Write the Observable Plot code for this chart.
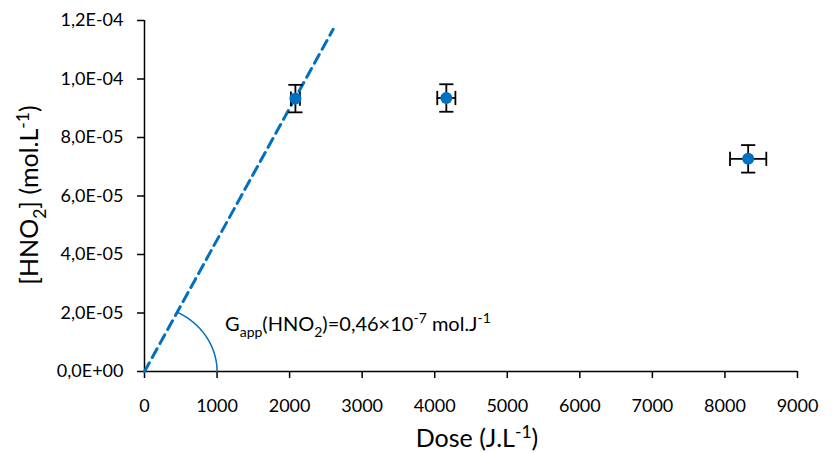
<!DOCTYPE html>
<html>
<head>
<meta charset="utf-8">
<script src="https://cdn.jsdelivr.net/npm/d3@7"></script>
<script src="https://cdn.jsdelivr.net/npm/@observablehq/plot@0.6"></script>
<style>
  html, body { margin: 0; padding: 0; background: #fff; }
  #chart { width: 837px; height: 453px; }
</style>
</head>
<body>
<div id="chart"></div>
<script>
// ---- data ----
const doses = [2080, 4160, 8320];
const conc = [9.33e-5, 9.35e-5, 7.27e-5];
const doseErr = [62, 125, 250];
const concErr = [4.7e-6, 4.7e-6, 4.7e-6];
const fitDose = [0, 2600];
const fitConc = [0, 1.17e-4];
const xTicks = [0, 1000, 2000, 3000, 4000, 5000, 6000, 7000, 8000, 9000];
const yTicks = [0, 2e-5, 4e-5, 6e-5, 8e-5, 1e-4, 1.2e-4];
const arcA = 1000;       // arc radius along dose
const arcB = 2.27e-5;    // arc radius along concentration

const points = doses.map((d, i) => ({dose: d, c: conc[i], dx: doseErr[i], dy: concErr[i]}));
const fit = fitDose.map((d, i) => ({dose: d, c: fitConc[i]}));
const fitSlope = fitConc[1] / fitDose[1];
const tEnd = Math.atan(fitSlope * arcA / arcB);
const arc = d3.range(0, 61).map(k => {
  const t = tEnd * k / 60;
  return {dose: arcA * Math.cos(t), c: arcB * Math.sin(t)};
});

const blue = "#0070C0";
function sci(v) {
  if (v === 0) return "0,0E+00";
  const e = Math.floor(Math.log10(Math.abs(v)) + 1e-9);
  const m = v / Math.pow(10, e);
  const es = (e < 0 ? "-" : "+") + String(Math.abs(e)).padStart(2, "0");
  return m.toFixed(1).replace(".", ",") + "E" + es;
}
const capH = {draw(ctx, size) { const r = Math.sqrt(size); ctx.moveTo(-r, 0); ctx.lineTo(r, 0); }};
const capV = {draw(ctx, size) { const r = Math.sqrt(size); ctx.moveTo(0, -r); ctx.lineTo(0, r); }};

const plot = Plot.plot({
  width: 837, height: 453,
  marginLeft: 144, marginRight: 40, marginTop: 20, marginBottom: 82,
  style: {fontFamily: "Lato", fontSize: "18px", color: "#000", background: "#fff", overflow: "visible"},
  x: {domain: [0, 9000]},
  y: {domain: [0, 1.2e-4]},
  marks: [
    Plot.axisX({ticks: xTicks, tickSize: 7, tickPadding: 21, tickFormat: d => String(d), label: null, strokeWidth: 1.5}),
    Plot.axisY({ticks: yTicks, tickSize: 7, tickPadding: 14, tickFormat: sci, label: null, strokeWidth: 1.5}),
    Plot.ruleX([0], {stroke: "#000", strokeWidth: 1.5}),
    Plot.ruleY([0], {stroke: "#000", strokeWidth: 1.5}),
    Plot.line(arc, {x: "dose", y: "c", stroke: blue, strokeWidth: 1.5}),
    Plot.line(fit, {x: "dose", y: "c", stroke: blue, strokeWidth: 3, strokeDasharray: "10,6"}),
    Plot.ruleX(points, {x: "dose", y1: d => d.c - d.dy, y2: d => d.c + d.dy, stroke: "#000", strokeWidth: 1.8}),
    Plot.ruleY(points, {y: "c", x1: d => d.dose - d.dx, x2: d => d.dose + d.dx, stroke: "#000", strokeWidth: 1.8}),
    Plot.dot(points, {x: "dose", y: d => d.c + d.dy, symbol: capH, r: 4, stroke: "#000", strokeWidth: 1.8, fill: "none"}),
    Plot.dot(points, {x: "dose", y: d => d.c - d.dy, symbol: capH, r: 4, stroke: "#000", strokeWidth: 1.8, fill: "none"}),
    Plot.dot(points, {x: d => d.dose - d.dx, y: "c", symbol: capV, r: 4, stroke: "#000", strokeWidth: 1.8, fill: "none"}),
    Plot.dot(points, {x: d => d.dose + d.dx, y: "c", symbol: capV, r: 4, stroke: "#000", strokeWidth: 1.8, fill: "none"}),
    Plot.dot(points, {x: "dose", y: "c", r: 6, fill: blue, stroke: "none"})
  ]
});
document.getElementById("chart").appendChild(plot);

function rich(parent, parts, size, anchor) {
  const text = parent.append("text").attr("font-size", size).attr("fill", "#000")
    .attr("font-family", "Lato").attr("text-anchor", anchor);
  let cur = 0;
  for (const p of parts) {
    let target = 0, fs = size;
    if (p.s === "sub") { target = 0.3 * size; fs = 0.7 * size; }
    if (p.s === "sup") { target = -0.38 * size; fs = 0.7 * size; }
    text.append("tspan").attr("dy", target - cur).attr("font-size", fs).text(p.t);
    cur = target;
  }
  return text;
}
const svg = d3.select(plot);
const sx = plot.scale("x"), sy = plot.scale("y");
// annotation
const ann = svg.append("g").attr("transform", `translate(${sx.apply(1117)},${sy.apply(1.37e-5)})`);
rich(ann, [{t: "G"}, {t: "app", s: "sub"}, {t: "(HNO"}, {t: "2", s: "sub"}, {t: ")=0,46×10"}, {t: "-7", s: "sup"}, {t: " mol.J"}, {t: "-1", s: "sup"}], 20, "start");
// x title
const xt = svg.append("g").attr("transform", `translate(477,447)`);
rich(xt, [{t: "Dose (J.L"}, {t: "-1", s: "sup"}, {t: ")"}], 25, "middle");
// y title
const yt = svg.append("g").attr("transform", `translate(38,195) rotate(-90)`);
rich(yt, [{t: "[HNO"}, {t: "2", s: "sub"}, {t: "] (mol.L"}, {t: "-1", s: "sup"}, {t: ")"}], 25, "middle");
</script>
</body>
</html>
